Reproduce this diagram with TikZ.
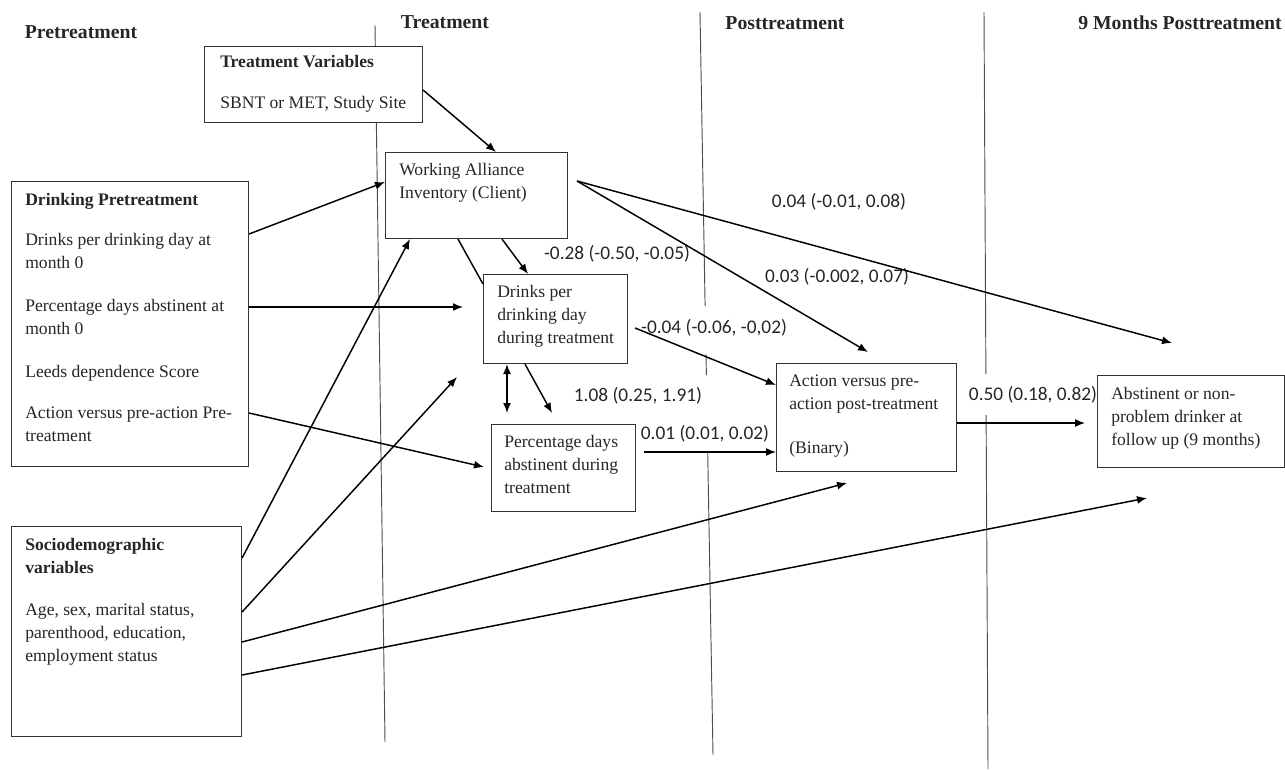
\documentclass[tikz,border=0pt]{standalone}
\usepackage{fontspec}
\setmainfont{Liberation Serif}
\newfontfamily\coeffont{Carlito}
\usetikzlibrary{arrows.meta, positioning}
\tikzset{x=0.75pt, y=-0.75pt, % one unit is one pixel of the layout, y grows downwards
varbox/.style={ % framed boxes of the model
draw=black!80, fill=white,
line width=0.8pt,
inner sep=0pt, anchor=north west},
boxtext/.style={ % text inside a box
align=left, inner sep=0pt, text=black!85,
font=\fontsize{13.2}{17.3}\selectfont},
phase/.style={ % titles of the periods
font=\bfseries\fontsize{14.8}{18}\selectfont, text=black!85},
coef/.style={ % path estimates
font=\coeffont\fontsize{14.5}{17}\selectfont, text=black!85, inner sep=0pt},
divider/.style={draw=black!70, line width=0.7pt}, % period separators
effect/.style={ % directed paths
draw, ->, >={Latex[length=7.5pt,width=6pt]},
line width=1.1pt}}

\begin{document}
\begin{tikzpicture}
    \useasboundingbox (0,0) rectangle (1285,769);

    % period separators
    \draw[divider] (375,25) -- (385,742);
    \draw[divider] (700,12) -- (705.1,306);
    \draw[divider] (706,354) -- (706.4,375);
    \draw[divider] (707.7,452) -- (713,755);
    \draw[divider] (984,12) -- (985.9,374);
    \draw[divider] (986.1,415) -- (988,769);

    \node[phase] (pre) at (81,32) {Pretreatment};
    \node[phase] (treat) at (445,22) {Treatment};
    \node[phase] (post) at (785,23) {Posttreatment};
    \node[phase] (nine) at (1180,23) {9 Months Posttreatment};

    % estimates
    \node[coef] (c28) at (617,254) {-0.28 (-0.50, -0.05)};
    \node[coef] (c04a) at (839,202) {0.04 (-0.01, 0.08)};
    \node[coef] (c03) at (837,277) {0.03 (-0.002, 0.07)};
    \node[coef] (c04b) at (714,328) {-0.04 (-0.06, -0,02)};
    \node[coef] (c108) at (638,396) {1.08 (0.25, 1.91)};
    \node[coef] (c01) at (705,434) {0.01 (0.01, 0.02)};
    \node[coef] (c50) at (1033,395) {0.50 (0.18, 0.82)};

    % boxes
    \node[varbox, minimum width=163.5pt, minimum height=57pt] (tv) at (204,46) {};
    \node[varbox, minimum width=136.5pt, minimum height=64.5pt] (wai) at (385,152) {};
    \node[varbox, minimum width=177.75pt, minimum height=213.75pt] (dp) at (11,181) {};
    \node[varbox, minimum width=108pt, minimum height=66.75pt] (dd) at (483,274) {};
    \node[varbox, minimum width=108pt, minimum height=65.25pt] (pd) at (491,424) {};
    \node[varbox, minimum width=135pt, minimum height=81pt] (act) at (776,363) {};
    \node[varbox, minimum width=140.25pt, minimum height=69pt] (fin) at (1097,375) {};
    \node[varbox, minimum width=172.5pt, minimum height=157.5pt] (sd) at (11,526) {};

    \node[boxtext, below right=6.75pt and 12pt of tv.north west] (tvtext)
        {\textbf{Treatment Variables}\\[13.5pt]SBNT or MET, Study Site};
    \node[boxtext, below right=8.25pt and 10.5pt of wai.north west] (waitext)
        {Working Alliance\\Inventory (Client)};
    \node[boxtext, below right=9pt and 10.5pt of dp.north west] (dptext)
        {\textbf{Drinking Pretreatment}\\[12.75pt]Drinks per drinking day at\\month 0\\[15pt]Percentage days abstinent at\\month 0\\[15pt]Leeds dependence Score\\[13.5pt]Action versus pre-action Pre-\\treatment};
    \node[boxtext, below right=8.25pt and 10.5pt of dd.north west] (ddtext)
        {Drinks per\\drinking day\\during treatment};
    \node[boxtext, below right=8.25pt and 9.75pt of pd.north west] (pdtext)
        {Percentage days\\abstinent during\\treatment};
    \node[boxtext, below right=9pt and 9.75pt of act.north west] (acttext)
        {Action versus pre-\\action post-treatment\\[15pt](Binary)};
    \node[boxtext, below right=9pt and 10.5pt of fin.north west] (fintext)
        {Abstinent or non-\\problem drinker at\\follow up (9 months)};
    \node[boxtext, below right=9pt and 10.5pt of sd.north west] (sdtext)
        {\textbf{Sociodemographic}\\\textbf{variables}\\[14.25pt]Age, sex, marital status,\\parenthood, education,\\employment status};

    % loose ends of the paths
    \coordinate (dptip) at (463,307);
    \coordinate (pdtip) at (484,467);
    \coordinate (sdtip) at (457,377);
    \coordinate (acttipb) at (847,483);
    \coordinate (fintipb) at (1147,498);
    \coordinate (waiout) at (577,181);
    \coordinate (acttip) at (868,352);
    \coordinate (fintip) at (1172,343);
    \coordinate (pdtop) at (507,413);
    \coordinate (ddtip) at (552,413);
    \coordinate (ddout) at (635,328);
    \coordinate (pdout) at (644,452);
    \coordinate (actout) at (1085,423);

    \draw[effect] (tv.east |- 0,90) -- (wai.north -| 496,0);
    \draw[effect] (dp.east |- 0,234) -- (wai.west |- 0,182);
    \draw[effect] (dp.east |- 0,307) -- (dptip);
    \draw[effect] (dp.east |- 0,413) -- (pdtip);

    \draw[effect] (sd.east |- 0,558) -- (wai.south -| 410,0);
    \draw[effect] (sd.east |- 0,612) -- (sdtip);
    \draw[effect] (sd.east |- 0,642) -- (acttipb);
    \draw[effect] (sd.east |- 0,675) -- (fintipb);

    \draw[effect] (wai.south -| 502,0) -- (dd.north -| 528,0);
    \draw[line width=1.1pt] (wai.south -| 458,0) -- (dd.west |- 0,284);
    \draw[effect] (waiout) -- (acttip);
    \draw[effect] (waiout) -- (fintip);

    \draw[effect, <->] (dd.south -| 507,0) -- (pdtop);
    \draw[effect] (dd.south -| 525,0) -- (ddtip);
    \draw[effect] (ddout) -- (act.west |- 0,385);
    \draw[effect] (pdout) -- (act.west |- 0,452);
    \draw[effect] (act.east |- 0,423) -- (actout);

\end{tikzpicture}
\end{document}
